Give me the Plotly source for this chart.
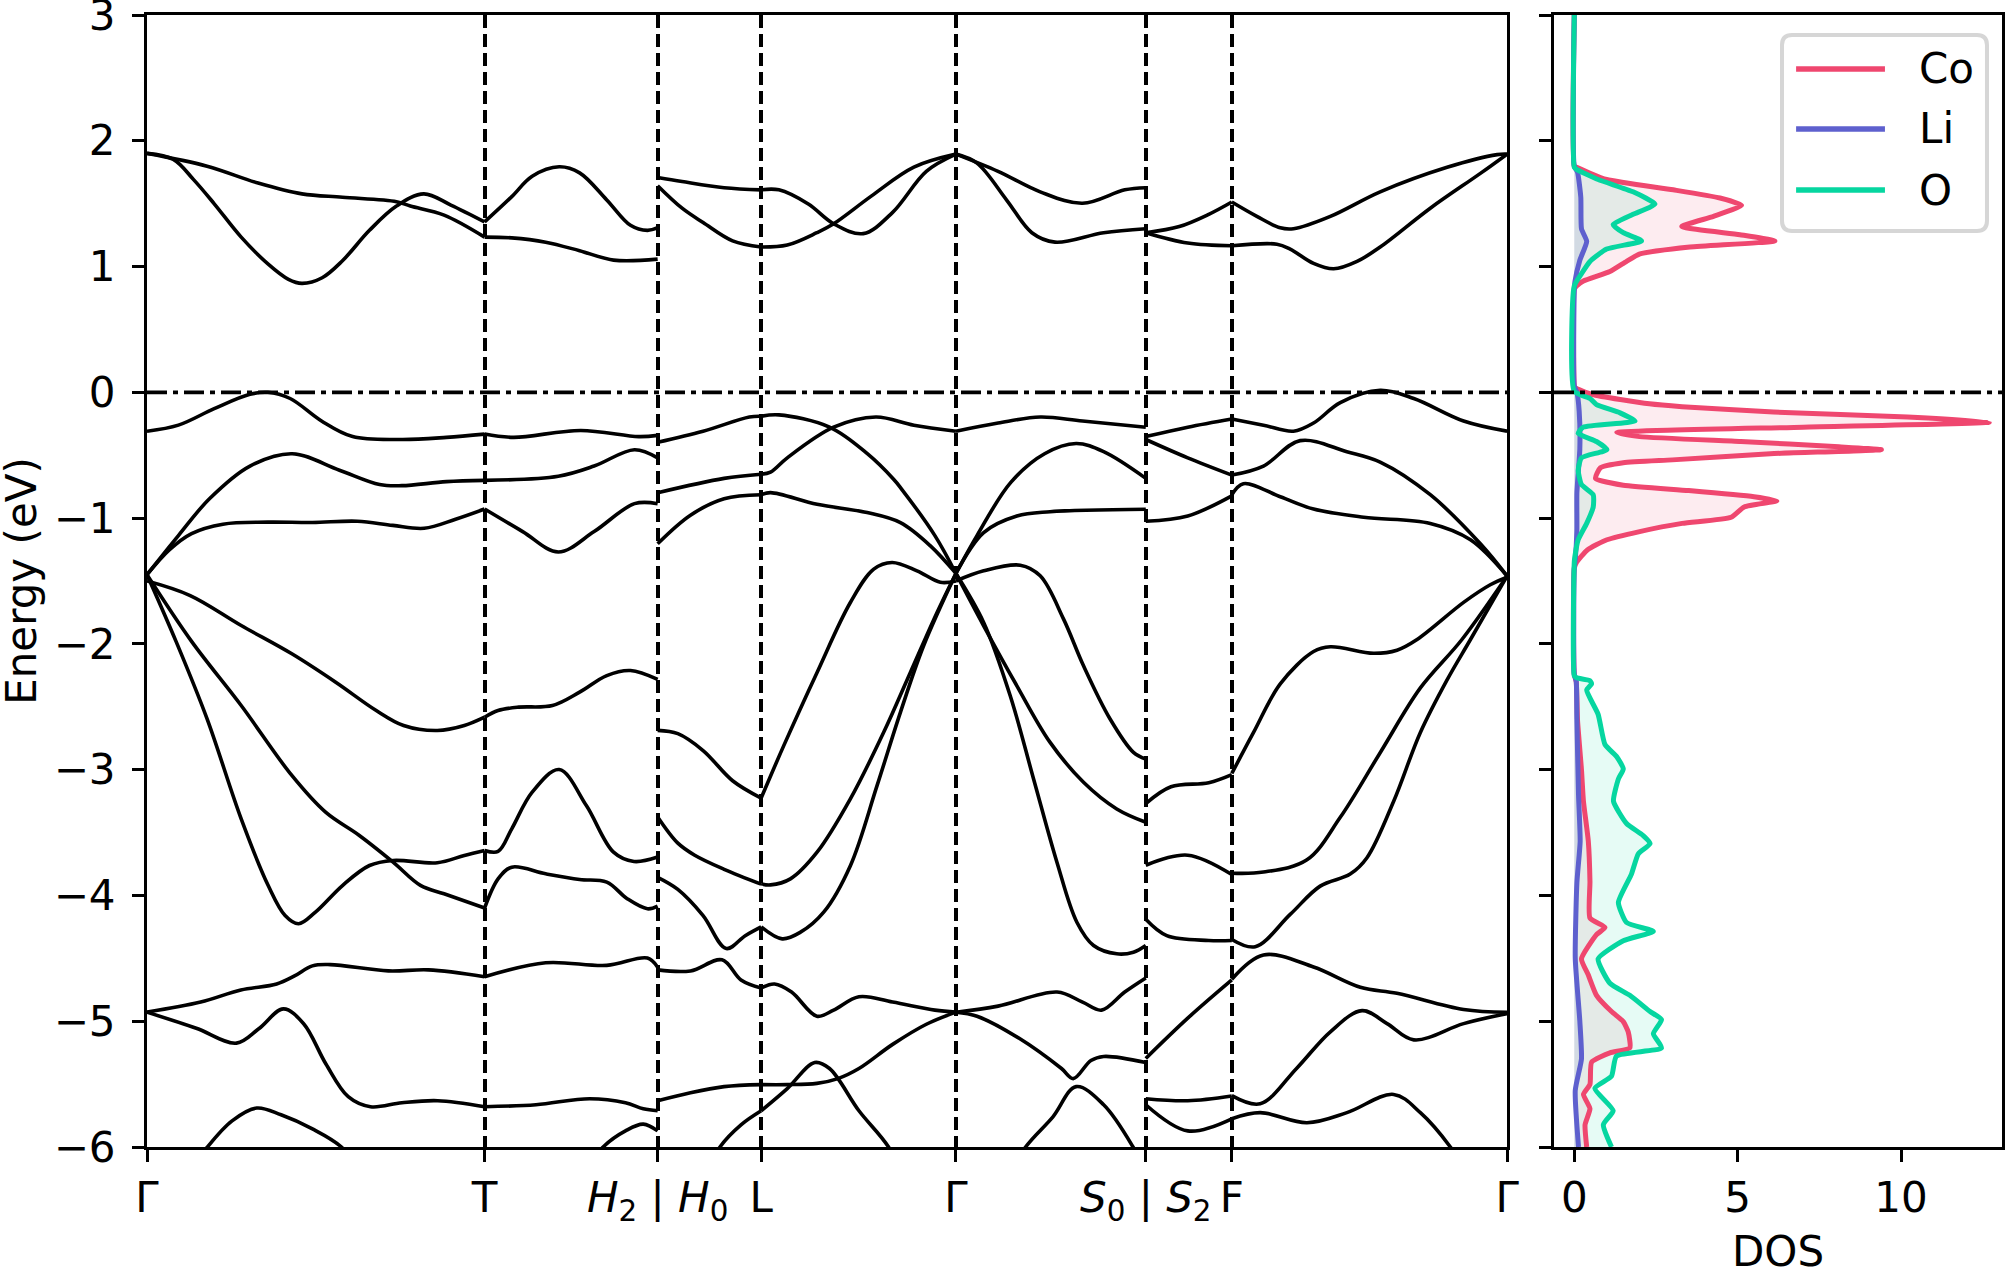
import plotly.graph_objects as go

# k-path (cumulative distance along the path, arbitrary units)
K_POINTS = [0.0, 3.375, 5.105, 6.14, 8.087, 9.985, 10.845, 13.597]
K_LABELS = ["Γ", "T", "<i>H</i><sub>2</sub> | <i>H</i><sub>0</sub>", "L", "Γ",
            "<i>S</i><sub>0</sub> | <i>S</i><sub>2</sub>", "F", "Γ"]
E_TICKS = [-6, -5, -4, -3, -2, -1, 0, 1, 2, 3]
DOS_TICKS = [0, 5, 10]

# bands per segment: (fraction along segment, energy in eV)
SEG_G_T = [
    [(0, 1.90), (0.178, 1.798), (0.329, 1.664), (0.459, 1.578), (0.579, 1.551), (0.739, 1.516), (0.78, 1.481), (0.88, 1.409), (1, 1.234)],
    [(0, 1.90), (0.078, 1.852), (0.138, 1.691), (0.198, 1.503), (0.279, 1.234), (0.359, 1.019), (0.419, 0.898), (0.459, 0.866), (0.519, 0.911), (0.579, 1.046), (0.659, 1.288), (0.739, 1.481), (0.82, 1.578), (0.9, 1.489), (1, 1.355)],
    [(0, -0.309), (0.093, -0.261), (0.199, -0.13), (0.305, -0.016), (0.358, 0.0), (0.424, -0.049), (0.517, -0.228), (0.609, -0.352), (0.755, -0.375), (0.887, -0.358), (1, -0.332)],
    [(0, -1.45), (0.093, -1.139), (0.185, -0.846), (0.305, -0.586), (0.43, -0.488), (0.57, -0.619), (0.689, -0.733), (0.755, -0.742), (0.887, -0.71), (1, -0.70)],
    [(0, -1.45), (0.066, -1.253), (0.132, -1.123), (0.225, -1.048), (0.358, -1.032), (0.49, -1.035), (0.623, -1.025), (0.728, -1.058), (0.821, -1.081), (0.914, -1.009), (1, -0.928)],
    [(0, -1.50), (0.128, -1.616), (0.279, -1.854), (0.429, -2.079), (0.559, -2.305), (0.679, -2.53), (0.76, -2.649), (0.86, -2.689), (0.94, -2.649), (1, -2.583)],
    [(0, -1.45), (0.086, -1.98), (0.178, -2.596), (0.279, -3.391), (0.359, -3.921), (0.409, -4.159), (0.449, -4.225), (0.499, -4.132), (0.579, -3.921), (0.659, -3.762), (0.729, -3.722), (0.86, -3.74), (0.94, -3.682), (1, -3.642)],
    [(0, -1.45), (0.132, -1.98), (0.279, -2.49), (0.429, -3.046), (0.529, -3.338), (0.629, -3.523), (0.729, -3.735), (0.81, -3.92), (0.88, -3.987), (1, -4.10)],
    [(0, -4.928), (0.159, -4.848), (0.278, -4.752), (0.384, -4.704), (0.437, -4.64), (0.49, -4.56), (0.543, -4.55), (0.715, -4.60), (0.834, -4.592), (1, -4.646)],
    [(0, -4.928), (0.146, -5.056), (0.265, -5.174), (0.331, -5.06), (0.404, -4.902), (0.464, -5.02), (0.53, -5.34), (0.596, -5.6), (0.662, -5.68), (0.755, -5.648), (0.861, -5.632), (1, -5.68)],
    [(0.1, -6.3), (0.179, -6.0), (0.252, -5.792), (0.325, -5.69), (0.397, -5.744), (0.49, -5.856), (0.576, -6.0), (0.65, -6.25)],
]
SEG_T_H = [
    [(0, 1.355), (0.157, 1.556), (0.275, 1.718), (0.431, 1.793), (0.549, 1.745), (0.706, 1.53), (0.843, 1.328), (0.941, 1.288), (1, 1.309)],
    [(0, 1.234), (0.157, 1.228), (0.353, 1.194), (0.549, 1.126), (0.745, 1.051), (1, 1.059)],
    [(0, -0.332), (0.168, -0.358), (0.556, -0.303), (0.891, -0.352), (1, -0.342)],
    [(0, -0.70), (0.426, -0.667), (0.633, -0.586), (0.866, -0.456), (1, -0.521)],
    [(0, -0.928), (0.22, -1.107), (0.426, -1.269), (0.633, -1.107), (0.866, -0.885), (1, -0.885)],
    [(0, -2.583), (0.078, -2.53), (0.196, -2.503), (0.392, -2.49), (0.549, -2.384), (0.706, -2.252), (0.843, -2.212), (1, -2.283)],
    [(0, -3.642), (0.078, -3.65), (0.157, -3.47), (0.275, -3.179), (0.431, -2.999), (0.588, -3.285), (0.745, -3.656), (0.863, -3.73), (1, -3.695)],
    [(0, -4.10), (0.078, -3.868), (0.157, -3.775), (0.353, -3.828), (0.549, -3.873), (0.706, -3.894), (0.824, -4.026), (0.941, -4.106), (1, -4.085)],
    [(0, -4.646), (0.353, -4.535), (0.706, -4.556), (0.941, -4.498), (1, -4.57)],
    [(0, -5.68), (0.297, -5.664), (0.607, -5.616), (0.814, -5.648), (0.917, -5.696), (1, -5.712)],
    [(0.55, -6.25), (0.685, -6.0), (0.814, -5.872), (0.917, -5.818), (1, -5.872)],
]
SEG_H_L = [
    [(0, 1.708), (0.236, 1.676), (0.642, 1.627), (1, 1.61)],
    [(0, 1.643), (0.236, 1.464), (0.439, 1.35), (0.724, 1.204), (1, 1.155)],
    [(0, -0.397), (0.439, -0.309), (0.886, -0.196), (1, -0.19)],
    [(0, -0.798), (0.642, -0.684), (1, -0.651)],
    [(0, -1.204), (0.317, -0.977), (0.642, -0.846), (1, -0.814)],
    [(0, -2.688), (0.195, -2.714), (0.439, -2.848), (0.724, -3.088), (1, -3.226)],
    [(0, -3.376), (0.195, -3.584), (0.358, -3.68), (0.642, -3.792), (1, -3.91)],
    [(0, -3.856), (0.195, -3.952), (0.439, -4.16), (0.663, -4.422), (0.846, -4.32), (1, -4.25)],
    [(0, -4.592), (0.317, -4.60), (0.622, -4.512), (0.805, -4.672), (1, -4.736)],
    [(0, -5.632), (0.317, -5.568), (0.642, -5.52), (1, -5.504)],
    [(0.45, -6.25), (0.602, -6.0), (0.805, -5.824), (1, -5.712)],
]
SEG_L_G = [
    [(0, 1.61), (0.091, 1.61), (0.242, 1.497), (0.372, 1.34), (0.524, 1.262), (0.675, 1.431), (0.848, 1.757), (1, 1.894)],
    [(0, 1.155), (0.134, 1.171), (0.286, 1.269), (0.372, 1.34), (0.567, 1.562), (0.784, 1.79), (1, 1.894)],
    [(0, -0.19), (0.091, -0.179), (0.351, -0.277), (0.545, -0.488), (0.68, -0.691), (0.719, -0.765), (0.892, -1.139), (1, -1.44)],
    [(0, -0.651), (0.048, -0.635), (0.134, -0.521), (0.372, -0.277), (0.589, -0.196), (0.784, -0.261), (1, -0.309)],
    [(0, -0.814), (0.048, -0.797), (0.287, -0.89), (0.544, -0.956), (0.715, -1.036), (0.869, -1.221), (1, -1.44)],
    [(0, -3.226), (0.116, -2.809), (0.287, -2.227), (0.458, -1.671), (0.578, -1.406), (0.672, -1.353), (0.8, -1.419), (0.92, -1.51), (1, -1.50)],
    [(0, -3.908), (0.048, -3.916), (0.15, -3.868), (0.287, -3.656), (0.458, -3.232), (0.629, -2.703), (0.766, -2.227), (0.903, -1.75), (1, -1.44)],
    [(0, -4.25), (0.108, -4.345), (0.202, -4.292), (0.321, -4.133), (0.458, -3.763), (0.595, -3.127), (0.715, -2.544), (0.834, -2.015), (1, -1.44)],
    [(0, -4.736), (0.069, -4.704), (0.156, -4.768), (0.286, -4.96), (0.372, -4.912), (0.502, -4.806), (0.675, -4.848), (0.892, -4.912), (1, -4.928)],
    [(0, -5.504), (0.134, -5.504), (0.286, -5.494), (0.394, -5.456), (0.502, -5.376), (0.675, -5.184), (0.848, -5.024), (1, -4.928)],
    [(0, -5.712), (0.134, -5.536), (0.275, -5.328), (0.351, -5.376), (0.502, -5.712), (0.654, -6.0), (0.75, -6.3)],
]
SEG_G_S = [
    [(0, 1.894), (0.222, 1.757), (0.444, 1.594), (0.667, 1.503), (0.889, 1.61), (1, 1.627)],
    [(0, 1.894), (0.111, 1.822), (0.267, 1.529), (0.4, 1.269), (0.522, 1.194), (0.778, 1.269), (1, 1.301)],
    [(0, -0.309), (0.222, -0.244), (0.444, -0.196), (0.667, -0.228), (1, -0.277)],
    [(0, -1.44), (0.111, -1.139), (0.289, -0.716), (0.467, -0.488), (0.633, -0.407), (0.778, -0.472), (1, -0.684)],
    [(0, -1.44), (0.146, -1.115), (0.321, -0.983), (0.496, -0.949), (1, -0.929)],
    [(0, -1.50), (0.146, -1.419), (0.339, -1.374), (0.444, -1.459), (0.567, -1.803), (0.672, -2.174), (0.812, -2.597), (0.935, -2.862), (1, -2.915)],
    [(0, -1.44), (0.146, -1.829), (0.286, -2.412), (0.409, -3.074), (0.532, -3.736), (0.637, -4.213), (0.725, -4.398), (0.847, -4.464), (0.935, -4.451), (1, -4.398)],
    [(0, -1.44), (0.146, -1.856), (0.321, -2.333), (0.496, -2.783), (0.672, -3.1), (0.847, -3.312), (1, -3.418)],
    [(0, -4.928), (0.111, -4.96), (0.333, -5.136), (0.556, -5.376), (0.618, -5.456), (0.711, -5.312), (0.778, -5.28), (1, -5.328)],
    [(0, -4.928), (0.222, -4.88), (0.533, -4.768), (0.667, -4.848), (0.767, -4.912), (0.889, -4.768), (1, -4.656)],
    [(0.25, -6.3), (0.367, -6.0), (0.511, -5.76), (0.633, -5.52), (0.778, -5.664), (0.933, -6.0), (1.0, -6.2)],
]
SEG_S_F = [
    [(0, 1.269), (0.39, 1.318), (0.732, 1.415), (1, 1.513)],
    [(0, 1.269), (0.488, 1.187), (1, 1.165)],
    [(0, -0.352), (0.488, -0.277), (1, -0.212)],
    [(0, -0.375), (0.488, -0.521), (1, -0.658)],
    [(0, -1.025), (0.488, -0.983), (1, -0.823)],
    [(0, -3.27), (0.293, -3.136), (0.732, -3.104), (1, -3.04)],
    [(0, -3.76), (0.488, -3.68), (1, -3.834)],
    [(0, -4.19), (0.244, -4.32), (0.732, -4.358), (1, -4.358)],
    [(0, -5.296), (0.488, -4.976), (1, -4.672)],
    [(0, -5.616), (0.488, -5.632), (1, -5.594)],
    [(0, -5.664), (0.488, -5.872), (1, -5.776)],
]
SEG_F_G = [
    [(0, 1.513), (0.091, 1.399), (0.176, 1.308), (0.224, 1.301), (0.358, 1.399), (0.539, 1.594), (0.782, 1.789), (0.964, 1.89), (1, 1.894)],
    [(0, 1.165), (0.164, 1.178), (0.212, 1.139), (0.297, 1.025), (0.37, 0.982), (0.455, 1.041), (0.539, 1.155), (0.721, 1.464), (0.903, 1.741), (1, 1.894)],
    [(0, -0.212), (0.115, -0.261), (0.224, -0.309), (0.297, -0.244), (0.394, -0.082), (0.539, 0.016), (0.661, -0.049), (0.842, -0.228), (1, -0.309)],
    [(0, -0.658), (0.115, -0.586), (0.248, -0.384), (0.418, -0.472), (0.539, -0.554), (0.721, -0.814), (0.903, -1.204), (1, -1.46)],
    [(0, -0.814), (0.042, -0.726), (0.176, -0.83), (0.297, -0.928), (0.479, -0.993), (0.721, -1.042), (0.867, -1.172), (1, -1.46)],
    [(0, -3.03), (0.079, -2.704), (0.176, -2.318), (0.297, -2.061), (0.358, -2.023), (0.515, -2.075), (0.6, -2.05), (0.673, -1.965), (0.842, -1.67), (0.939, -1.53), (1, -1.47)],
    [(0, -3.823), (0.115, -3.814), (0.273, -3.717), (0.394, -3.379), (0.539, -2.865), (0.685, -2.35), (0.836, -1.965), (1, -1.46)],
    [(0, -4.35), (0.085, -4.408), (0.212, -4.151), (0.321, -3.926), (0.43, -3.83), (0.491, -3.70), (0.588, -3.251), (0.685, -2.704), (0.782, -2.286), (0.867, -1.965), (1, -1.46)],
    [(0, -4.666), (0.115, -4.473), (0.297, -4.569), (0.467, -4.73), (0.6, -4.778), (0.842, -4.907), (1, -4.929)],
    [(0, -5.592), (0.103, -5.656), (0.236, -5.373), (0.358, -5.084), (0.473, -4.916), (0.564, -5.019), (0.661, -5.148), (0.842, -5.019), (1, -4.939)],
    [(0, -5.775), (0.103, -5.727), (0.273, -5.807), (0.418, -5.727), (0.588, -5.582), (0.685, -5.727), (0.794, -6.0), (0.88, -6.3)],
]
SEGMENTS = [SEG_G_T, SEG_T_H, SEG_H_L, SEG_L_G, SEG_G_S, SEG_S_F, SEG_F_G]

# projected DOS (energy, states)
CO_E = [3.0, 1.80, 1.789, 1.692, 1.61, 1.545, 1.487, 1.399, 1.318, 1.253, 1.204, 1.155, 1.10, 1.041, 0.96, 0.885, 0.846, 0.82,
        0.06, 0.039, -0.017, -0.091, -0.114, -0.157, -0.196, -0.238, -0.277, -0.319, -0.352, -0.391, -0.433, -0.456, -0.488,
        -0.537, -0.56, -0.60, -0.684, -0.739, -0.781, -0.83, -0.863, -0.911, -0.993, -1.042, -1.107, -1.172, -1.253, -1.351, -1.40,
        -2.24, -2.30, -2.61, -3.0, -3.25, -3.57, -3.89, -4.18, -4.254, -4.312, -4.505, -4.633, -4.794, -4.923, -5.003, -5.084,
        -5.212, -5.251, -5.325, -5.502, -5.582, -5.695, -5.823, -6.0]
CO_DOS = [0, 0, 0.07, 0.99, 3.03, 4.46, 5.12, 4.26, 3.29, 5.07, 6.14, 3.54, 2.01, 1.6, 1.09, 0.28, 0.07, 0,
          0, 0.02, 0.55, 2.3, 3.3, 6.1, 10.2, 12.7, 7.0, 1.3, 2.0, 5.1, 8.1, 9.4, 6.0,
          3.0, 1.5, 0.8, 0.65, 1.5, 3.5, 5.5, 6.2, 5.2, 4.8, 3.3, 2.0, 1.0, 0.4, 0.07, 0,
          0, 0.06, 0.1, 0.22, 0.28, 0.43, 0.48, 0.48, 0.94, 0.68, 0.22, 0.43, 0.68, 1.14, 1.5, 1.65,
          1.7, 1.09, 0.53, 0.48, 0.28, 0.48, 0.33, 0.38]
LI_E = [3.0, 1.80, 1.75, 1.55, 1.30, 1.20, 1.05, 0.88, 0.80, 0.05, 0.0, -0.15, -0.45, -0.8, -1.1, -1.33, -1.40,
        -2.24, -2.30, -2.6, -3.2, -3.57, -3.9, -4.5, -5.0, -5.3, -5.55, -6.0]
LI_DOS = [0, 0, 0.1, 0.2, 0.22, 0.38, 0.17, 0.02, 0, 0, 0.08, 0.15, 0.17, 0.08, 0.08, 0.03, 0,
          0, 0.06, 0.08, 0.13, 0.18, 0.08, 0.03, 0.17, 0.22, 0.03, 0.13]
O_E = [3.0, 1.79, 1.773, 1.692, 1.594, 1.497, 1.415, 1.334, 1.269, 1.204, 1.139, 1.041, 0.943, 0.846,
       0.007, -0.049, -0.098, -0.163, -0.228, -0.277, -0.326, -0.391, -0.456, -0.521, -0.619, -0.733, -0.814, -0.911,
       -1.042, -1.172, -1.302, -1.35,
       -2.254, -2.27, -2.293, -2.318, -2.367, -2.56, -2.80, -2.897, -2.994, -3.074, -3.251, -3.428, -3.524, -3.588,
       -3.669, -3.83, -4.055, -4.215, -4.286, -4.36, -4.505, -4.698, -4.794, -4.923, -4.987, -5.10, -5.212, -5.277,
       -5.437, -5.534, -5.711, -5.823, -6.0]
O_DOS = [0, 0, 0.07, 0.73, 1.8, 2.47, 1.8, 1.19, 1.5, 2.06, 0.99, 0.48, 0.22, 0,
         0, 0.48, 0.68, 1.4, 1.86, 0.28, 0.12, 0.68, 1.0, 0.22, 0.12, 0.22, 0.58, 0.58,
         0.38, 0.12, 0.02, 0,
         0, 0.07, 0.48, 0.53, 0.38, 0.73, 0.94, 1.3, 1.5, 1.35, 1.2, 1.6, 2.11, 2.32,
         1.96, 1.75, 1.35, 1.6, 2.42, 1.5, 0.73, 1.09, 1.7, 2.32, 2.67, 2.42, 2.67, 1.29,
         1.14, 0.63, 1.19, 0.89, 1.14]

SPECIES = ["Co", "Li", "O"]
SPECIES_E = [CO_E, LI_E, O_E]
SPECIES_DOS = [CO_DOS, LI_DOS, O_DOS]
COLORS = ["#ef476f", "#5e60ce", "#06d6a0"]
FILLS = ["rgba(239,71,111,0.10)", "rgba(94,96,206,0.12)", "rgba(6,214,160,0.10)"]

FONT = "DejaVu Sans"
FSIZE = 42

fig = go.Figure()

# band structure, one trace per band per path segment
for i, seg in enumerate(SEGMENTS):
    k0, k1 = K_POINTS[i], K_POINTS[i + 1]
    for band in seg:
        ks = [k0 + t * (k1 - k0) for t, _ in band]
        es = [e for _, e in band]
        fig.add_trace(go.Scatter(x=ks, y=es, mode="lines", showlegend=False, hoverinfo="skip",
                                 line=dict(color="black", width=3.6, shape="spline", smoothing=1.0),
                                 xaxis="x", yaxis="y"))

# DOS: fills first, lines on top
for ev, dos, fcol in zip(SPECIES_E, SPECIES_DOS, FILLS):
    fig.add_trace(go.Scatter(x=dos, y=ev, mode="lines", fill="tozerox", fillcolor=fcol,
                             line=dict(width=0, color=fcol, shape="spline", smoothing=0.5),
                             showlegend=False, hoverinfo="skip", xaxis="x2", yaxis="y2"))
for name, ev, dos, col in zip(SPECIES, SPECIES_E, SPECIES_DOS, COLORS):
    fig.add_trace(go.Scatter(x=dos, y=ev, mode="lines", name=name, showlegend=False,
                             line=dict(width=5, color=col, shape="spline", smoothing=0.5),
                             xaxis="x2", yaxis="y2"))

axis_common = dict(showline=True, mirror=True, linecolor="black", linewidth=3,
                   ticks="outside", ticklen=12, tickwidth=3, tickcolor="black",
                   zeroline=False, automargin=False, ticklabeloverflow="allow",
                   tickfont=dict(family=FONT, size=FSIZE, color="black"))

# hand-made legend box (matplotlib style, rounded frame, long line samples)
bx0, bx1, byt, byb, rx, ry = 0.8814, 0.9919, 0.9823, 0.8092, 0.0054, 0.0088
box_path = (f"M {bx0+rx},{byt} L {bx1-rx},{byt} Q {bx1},{byt} {bx1},{byt-ry} "
            f"L {bx1},{byb+ry} Q {bx1},{byb} {bx1-rx},{byb} L {bx0+rx},{byb} "
            f"Q {bx0},{byb} {bx0},{byb+ry} L {bx0},{byt-ry} Q {bx0},{byt} {bx0+rx},{byt} Z")
legend_rows = [0.9523, 0.8993, 0.8454]

shapes = [
    dict(type="line", xref="x domain", yref="y", x0=0, x1=1, y0=0, y1=0,
         line=dict(color="black", width=3.6, dash="20px,6px,5px,6px")),
    dict(type="line", xref="x2 domain", yref="y2", x0=0, x1=1, y0=0, y1=0,
         line=dict(color="black", width=3.6, dash="20px,6px,5px,6px")),
    dict(type="path", xref="paper", yref="paper", path=box_path,
         fillcolor="rgba(255,255,255,0.8)", line=dict(color="#d6d6d6", width=4)),
]
annotations = [
    dict(text="Energy (eV)", xref="paper", yref="paper", x=-0.068, y=0.5, textangle=-90,
         showarrow=False, xanchor="center", yanchor="middle", font=dict(family=FONT, size=FSIZE)),
    dict(text="DOS", xref="paper", yref="paper", x=0.8793, y=-0.092, showarrow=False,
         xanchor="center", yanchor="middle", font=dict(family=FONT, size=FSIZE)),
]
for name, col, yr in zip(SPECIES, COLORS, legend_rows):
    shapes.append(dict(type="line", xref="paper", yref="paper", x0=0.8890, x1=0.9369, y0=yr, y1=yr,
                       line=dict(color=col, width=5.5)))
    annotations.append(dict(text=name, xref="paper", yref="paper", x=0.9542, y=yr, showarrow=False,
                            xanchor="left", yanchor="middle", font=dict(family=FONT, size=FSIZE)))

fig.update_layout(
    width=2007, height=1273,
    margin=dict(l=147, r=5, t=15, b=126),
    paper_bgcolor="white", plot_bgcolor="white",
    font=dict(family=FONT, size=FSIZE, color="black"),
    showlegend=False,
    xaxis=dict(domain=[0, 0.7332], range=[K_POINTS[0], K_POINTS[-1]], tickvals=K_POINTS,
               ticktext=K_LABELS, showgrid=True, gridcolor="black", gridwidth=3.6,
               griddash="13px,6px", anchor="y", ticklabelstandoff=0, **axis_common),
    yaxis=dict(range=[-6, 3], tickvals=E_TICKS, showgrid=False, anchor="x",
               ticklabelstandoff=8, **axis_common),
    xaxis2=dict(domain=[0.7585, 1], range=[-0.62, 13.09], tickvals=DOS_TICKS, showgrid=False,
                anchor="y2", ticklabelstandoff=0, **axis_common),
    yaxis2=dict(range=[-6, 3], tickvals=E_TICKS, showgrid=False, showticklabels=False,
                anchor="x2", **axis_common),
    shapes=shapes,
    annotations=annotations,
)

# drop the default page margin so the figure fills the window exactly; hide the modebar
fig.write_html("out.html", config={"displayModeBar": False},
               post_script="document.body.style.margin='0';")
